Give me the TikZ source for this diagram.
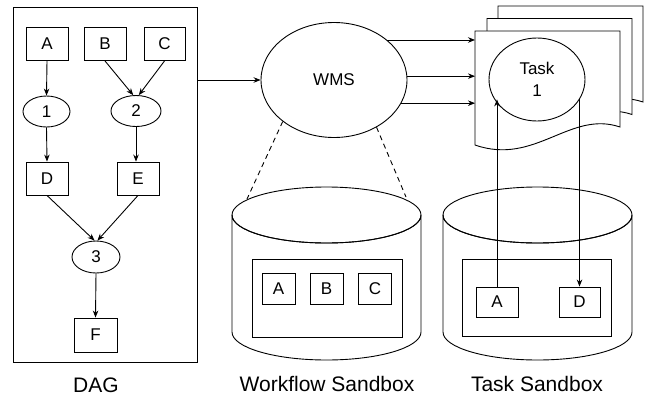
\documentclass[tikz,border=0pt]{standalone}
\usepackage{fontspec}
\setmainfont{Liberation Sans}
\usetikzlibrary{arrows.meta,calc,shapes.geometric}
\begin{document}
\begin{tikzpicture}[x=1pt,y=-1pt,line width=0.9pt,
  nodefont/.style={font=\fontsize{17}{19}\selectfont},
  box/.style={draw,fill=white,inner sep=0pt,minimum width=42pt,minimum height=33pt,nodefont},
  oval/.style={draw,fill=white,ellipse,inner sep=0pt,minimum width=48pt,minimum height=31pt,nodefont},
  frame/.style={draw,fill=white,inner sep=0pt},
  caption/.style={font=\fontsize{21}{24}\selectfont},
  arr/.style={-{Stealth[length=7pt,width=5.5pt]}},
  doc/.style={draw,fill=white}]
\useasboundingbox (0,0) rectangle (650,399);

% ---------- DAG ----------
\node[frame,minimum width=184pt,minimum height=355pt] (dag) at (105,184.5) {};
\node[box] (A) at (47,44) {A};
\node[box] (B) at (105,44) {B};
\node[box,minimum width=41pt] (C) at (164.5,44) {C};
\node[oval,minimum width=47pt] (n1) at (46.5,111.5) {1};
\node[oval,minimum width=50pt] (n2) at (136,111) {2};
\node[box] (D) at (47,178.5) {D};
\node[box] (E) at (138,178.5) {E};
\node[oval,minimum height=32pt] (n3) at (96,257) {3};
\node[box,minimum width=43pt,minimum height=34pt] (F) at (95.5,335) {F};
\draw[arr] (A.south) -- (n1.north);
\draw[arr] (B.south) -- (n2.100);
\draw[arr] (C.south) -- (n2.80);
\draw[arr] (n1.south) -- (D.north);
\draw[arr] (n2.south) -- (E.north -| n2.south);
\draw[arr] (D.south) -- (n3.95);
\draw[arr] (E.south) -- (n3.85);
\draw[arr] (n3.south) -- (F.north);
\node[caption] (dagl) at (96,385) {DAG};

% ---------- WMS ----------
\node[draw,fill=white,ellipse,inner sep=0pt,minimum width=146pt,minimum height=115pt,nodefont] (wms) at (334,80) {WMS};
\draw[arr] (wms.west -| dag.east) -- (wms.west);

% ---------- task documents ----------
\def\docpath#1#2{(475+#1,31+#2) -- (620+#1,31+#2) -- (620+#1,127+#2)
  .. controls (570+#1,110+#2) and (535+#1,166+#2) .. (475+#1,145+#2) -- cycle}
\draw[doc] \docpath{23}{-25};
\draw[doc] \docpath{12}{-12.5};
\draw[doc] \docpath{0}{0};
\coordinate (docL) at (475,31);
\node[draw,fill=white,ellipse,inner sep=0pt,minimum width=96pt,minimum height=83pt,
  nodefont,align=center] (task) at (537,79.5) {Task\\[3pt]1};
\draw[arr] (wms.37.6) -- (wms.37.6 -| docL);
\draw[arr] (wms.3.9) -- (wms.3.9 -| docL);
\draw[arr] (wms.-19) -- (wms.-19 -| docL);

% ---------- cylinder: #1 = centre x, #2 = left x, #3 = right x ----------
\def\cylinder#1#2#3{%
  \filldraw[fill=white] (#2,215) -- (#2,332)
    arc[start angle=180,end angle=0,x radius=94.5,y radius=28]
    -- (#3,215)
    arc[start angle=0,end angle=180,x radius=94.5,y radius=28] -- cycle;
  \draw (#1,215) ellipse [x radius=94.5,y radius=28];}

% ---------- workflow sandbox ----------
\coordinate (wsL) at (247,199);
\coordinate (wsR) at (406,197);
\draw[dashed,dash pattern=on 5pt off 4pt] (wms.219.6) -- (wsL);
\draw[dashed,dash pattern=on 5pt off 4pt] (wms.-48.2) -- (wsR);
\cylinder{326.5}{232}{421}
\node[frame,minimum width=150pt,minimum height=78pt] (wsin) at (327,298) {};
\node[box,minimum width=33pt,minimum height=31pt] (wA) at (278.5,288.5) {A};
\node[box,minimum width=33pt,minimum height=31pt] (wB) at (326.5,288.5) {B};
\node[box,minimum width=33pt,minimum height=31pt] (wC) at (375,288.5) {C};
\node[caption] (wsl) at (327,384) {Workflow Sandbox};

% ---------- task sandbox ----------
\cylinder{537.5}{443}{632}
\node[frame,minimum width=149pt,minimum height=77pt] (tsin) at (536.5,297.5) {};
\node[box,minimum height=30pt] (tA) at (497,302) {A};
\node[box,minimum width=41pt,minimum height=30pt] (tD) at (579.5,302) {D};
\draw[arr] (tA.north) -- (tA.north |- task.205.5);
\draw[arr] (task.-25.5 -| tD.north) -- (tD.north);
\node[caption] (tsl) at (537,384) {Task Sandbox};
\end{tikzpicture}
\end{document}
